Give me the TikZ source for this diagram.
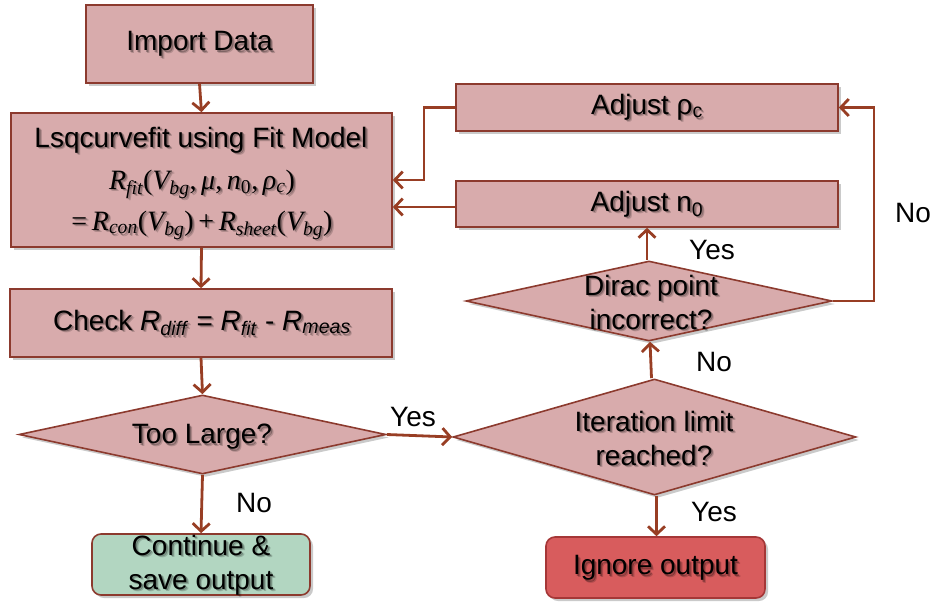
\documentclass[tikz,border=0pt]{standalone}
\usepackage{fontspec}
\setmainfont{Liberation Sans}
\newfontfamily\tms{Liberation Serif}
\usetikzlibrary{shapes.geometric,arrows.meta,shadows}

\definecolor{boxfill}{RGB}{216,171,172}
\definecolor{boxline}{RGB}{140,58,46}
\definecolor{arrowc}{RGB}{152,62,36}
\definecolor{greenfill}{RGB}{178,214,193}
\definecolor{redfill}{RGB}{216,92,93}
\definecolor{redline}{RGB}{165,55,55}

% text with a soft offset shadow behind it
\newcommand\shtext[3]{%
  \node[tx, text opacity=0.18, xshift=2.6pt, yshift=-2.6pt] at (#1) {#3};
  \node[tx, text opacity=0.28, xshift=1.5pt, yshift=-1.5pt] at (#1) {#3};
  \node[tx] (#2) at (#1) {#3};}

\begin{document}
\begin{tikzpicture}[x=1pt, y=-1pt,
  font=\fontsize{28}{34}\selectfont,
  shadowed/.style={drop shadow={shadow xshift=3pt, shadow yshift=-3pt, opacity=0.35, fill=black!60}},
  procbox/.style={rectangle, draw=boxline, line width=1.6pt, fill=boxfill, inner sep=0pt, shadowed},
  endbox/.style={rectangle, rounded corners=9pt, draw=boxline, line width=1.6pt, inner sep=0pt, shadowed},
  decision/.style={diamond, draw=boxline, line width=1.6pt, fill=boxfill, inner sep=0pt, shadowed},
  tx/.style={align=center, inner sep=0pt, text=black},
  lbl/.style={inner sep=0pt, text=black},
  flow/.style={draw=arrowc, line width=2.8pt, -{Straight Barb[length=8pt,width=17pt]}}]

\useasboundingbox (0,0) rectangle (933,602);

% process boxes
\node[procbox, minimum width=227pt, minimum height=78pt] (imp) at (199.5,44) {};
\node[procbox, minimum width=381pt, minimum height=134pt] (lsq) at (201.5,180) {};
\node[procbox, minimum width=382pt, minimum height=68pt] (chk) at (201,323) {};
\node[procbox, minimum width=382pt, minimum height=47pt] (adjr) at (647,107.5) {};
\node[procbox, minimum width=382pt, minimum height=46pt] (adjn) at (647,204) {};

% decisions
\node[decision, minimum width=367pt, minimum height=79pt] (too) at (202.5,434.5) {};
\node[decision, minimum width=403pt, minimum height=116pt] (iter) at (654.5,437) {};
\node[decision, minimum width=366pt, minimum height=80pt] (dir) at (649,301) {};

% terminal boxes
\node[endbox, fill=greenfill, minimum width=218pt, minimum height=61pt] (cont) at (201,564.5) {};
\node[endbox, fill=redfill, draw=redline, minimum width=219pt, minimum height=61pt] (ign) at (655.5,567.5) {};

% box texts
\shtext{imp}{impT}{Import Data}
\shtext{201,140}{lsqA}{Lsqcurvefit using Fit Model}
\shtext{202,184}{lsqB}{{\tms\itshape R\textsubscript{fit}\upshape(\itshape V\textsubscript{bg}\upshape,\,\itshape μ\upshape,\,\itshape n\textsubscript{\upshape 0}\upshape,\,\itshape ρ\textsubscript{c}\upshape)}}
\shtext{202,225}{lsqC}{{\tms =\,\itshape R\textsubscript{con}\upshape(\itshape V\textsubscript{bg}\upshape)\,+\,\itshape R\textsubscript{sheet}\upshape(\itshape V\textsubscript{bg}\upshape)}}
\shtext{202,323}{chkT}{Check \textit{R}\textsubscript{\textit{diff}} = \textit{R}\textsubscript{\textit{fit}} - \textit{R}\textsubscript{\textit{meas}}}
\shtext{647,107}{adjrT}{Adjust ρ\textsubscript{c}}
\shtext{647,204}{adjnT}{Adjust n\textsubscript{0}}
\shtext{202,437}{tooT}{Too Large?}
\shtext{654,438}{iterT}{Iteration limit\\reached?}
\shtext{651,302}{dirT}{Dirac point\\incorrect?}
\shtext{201,565}{contT}{Continue \&\\save output}
\shtext{655.5,568}{ignT}{Ignore output}

% corner points of the feedback loops
\coordinate (rloop) at (874,301);
\coordinate (lloop) at (424,107.5);

% connectors
\draw[flow] (imp.south) -- (lsq.north);
\draw[flow] (lsq.south) -- (chk.north);
\draw[flow] (chk.south) -- (too.north);
\draw[flow] (too.east) -- (iter.west);
\draw[flow] (too.south) -- (cont.north);
\draw[flow] (iter.south -| ign.north) ++(1,0) -- ([xshift=1pt]ign.north);
\draw[flow] ([xshift=-3pt]iter.north) -- ([xshift=1pt]dir.south);
\draw[flow] ([xshift=-2pt]dir.north) -- ([xshift=-2pt]dir.north |- adjn.south);
\draw[flow] (dir.east) -- (rloop) -- (rloop |- adjr.east) -- (adjr.east);
\draw[flow] (adjr.west) -- (lloop) -- (lloop |- lsq.east) -- (lsq.east);
\draw[flow] ([yshift=-3pt]adjn.west) -- ([yshift=-3pt]adjn.west -| lsq.east);

% branch labels
\node[lbl] (yes1) at (413,417) {Yes};
\node[lbl] (no1) at (254,503) {No};
\node[lbl] (no2) at (714,362) {No};
\node[lbl] (yes2) at (714,512) {Yes};
\node[lbl] (yes3) at (712,250) {Yes};
\node[lbl] (no3) at (913,213) {No};

\end{tikzpicture}
\end{document}
